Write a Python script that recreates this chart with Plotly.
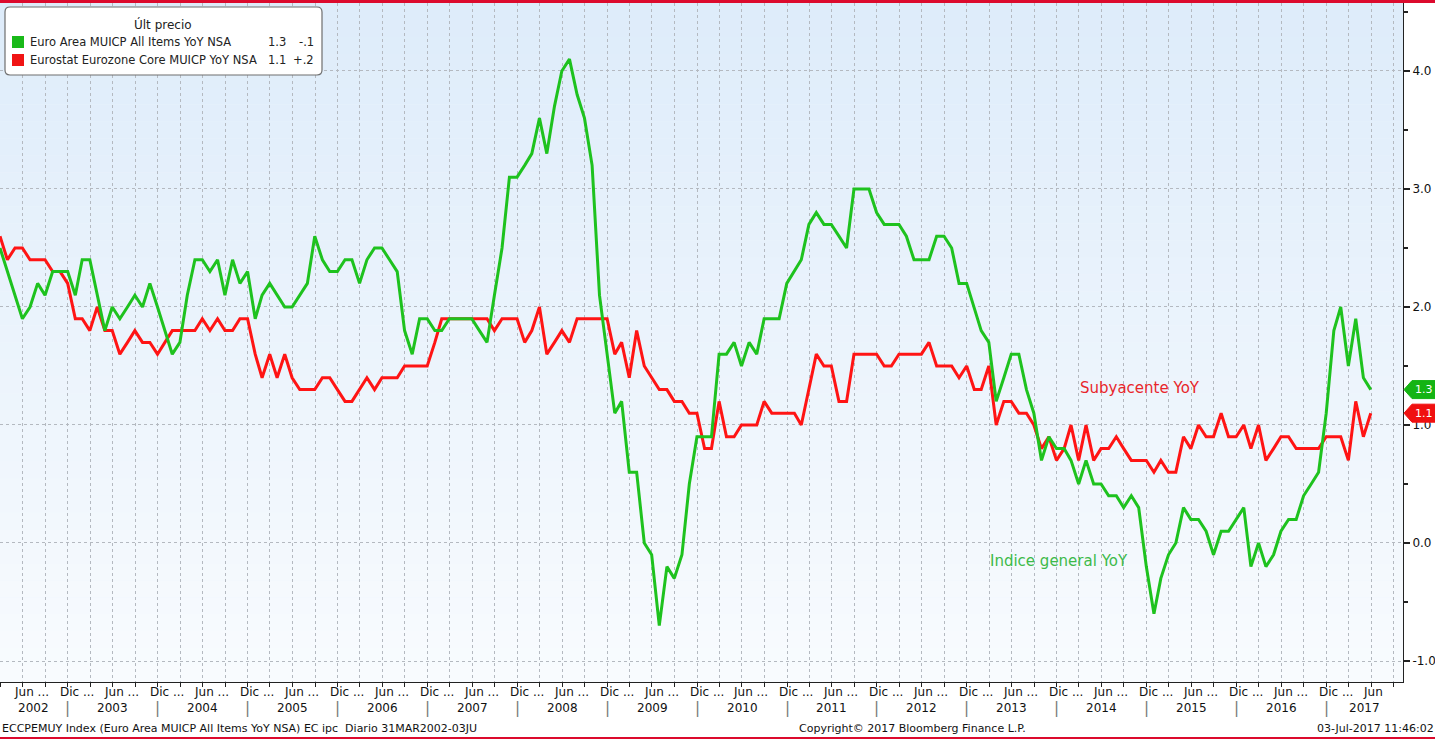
import pandas as pd
import plotly.graph_objects as go

# ---------------- data (monthly, Mar-2002 .. Jun-2017) ----------------
start_month = "2002-03-31"
headline_yoy = [
    # 2002 (Mar-Dec)
    2.5, 2.3, 2.1, 1.9, 2.0, 2.2, 2.1, 2.3, 2.3, 2.3,
    # 2003
    2.1, 2.4, 2.4, 2.1, 1.8, 2.0, 1.9, 2.0, 2.1, 2.0, 2.2, 2.0,
    # 2004
    1.8, 1.6, 1.7, 2.1, 2.4, 2.4, 2.3, 2.4, 2.1, 2.4, 2.2, 2.3,
    # 2005
    1.9, 2.1, 2.2, 2.1, 2.0, 2.0, 2.1, 2.2, 2.6, 2.4, 2.3, 2.3,
    # 2006
    2.4, 2.4, 2.2, 2.4, 2.5, 2.5, 2.4, 2.3, 1.8, 1.6, 1.9, 1.9,
    # 2007
    1.8, 1.8, 1.9, 1.9, 1.9, 1.9, 1.8, 1.7, 2.1, 2.5, 3.1, 3.1,
    # 2008
    3.2, 3.3, 3.6, 3.3, 3.7, 4.0, 4.1, 3.8, 3.6, 3.2, 2.1, 1.6,
    # 2009
    1.1, 1.2, 0.6, 0.6, 0.0, -0.1, -0.7, -0.2, -0.3, -0.1, 0.5, 0.9,
    # 2010
    0.9, 0.9, 1.6, 1.6, 1.7, 1.5, 1.7, 1.6, 1.9, 1.9, 1.9, 2.2,
    # 2011
    2.3, 2.4, 2.7, 2.8, 2.7, 2.7, 2.6, 2.5, 3.0, 3.0, 3.0, 2.8,
    # 2012
    2.7, 2.7, 2.7, 2.6, 2.4, 2.4, 2.4, 2.6, 2.6, 2.5, 2.2, 2.2,
    # 2013
    2.0, 1.8, 1.7, 1.2, 1.4, 1.6, 1.6, 1.3, 1.1, 0.7, 0.9, 0.8,
    # 2014
    0.8, 0.7, 0.5, 0.7, 0.5, 0.5, 0.4, 0.4, 0.3, 0.4, 0.3, -0.2,
    # 2015
    -0.6, -0.3, -0.1, 0.0, 0.3, 0.2, 0.2, 0.1, -0.1, 0.1, 0.1, 0.2,
    # 2016
    0.3, -0.2, 0.0, -0.2, -0.1, 0.1, 0.2, 0.2, 0.4, 0.5, 0.6, 1.1,
    # 2017 (Jan-Jun)
    1.8, 2.0, 1.5, 1.9, 1.4, 1.3,
]
core_yoy = [
    # 2002 (Mar-Dec)
    2.6, 2.4, 2.5, 2.5, 2.4, 2.4, 2.4, 2.3, 2.3, 2.2,
    # 2003
    1.9, 1.9, 1.8, 2.0, 1.8, 1.8, 1.6, 1.7, 1.8, 1.7, 1.7, 1.6,
    # 2004
    1.7, 1.8, 1.8, 1.8, 1.8, 1.9, 1.8, 1.9, 1.8, 1.8, 1.9, 1.9,
    # 2005
    1.6, 1.4, 1.6, 1.4, 1.6, 1.4, 1.3, 1.3, 1.3, 1.4, 1.4, 1.3,
    # 2006
    1.2, 1.2, 1.3, 1.4, 1.3, 1.4, 1.4, 1.4, 1.5, 1.5, 1.5, 1.5,
    # 2007
    1.7, 1.9, 1.9, 1.9, 1.9, 1.9, 1.9, 1.9, 1.8, 1.9, 1.9, 1.9,
    # 2008
    1.7, 1.8, 2.0, 1.6, 1.7, 1.8, 1.7, 1.9, 1.9, 1.9, 1.9, 1.9,
    # 2009
    1.6, 1.7, 1.4, 1.8, 1.5, 1.4, 1.3, 1.3, 1.2, 1.2, 1.1, 1.1,
    # 2010
    0.8, 0.8, 1.2, 0.9, 0.9, 1.0, 1.0, 1.0, 1.2, 1.1, 1.1, 1.1,
    # 2011
    1.1, 1.0, 1.3, 1.6, 1.5, 1.5, 1.2, 1.2, 1.6, 1.6, 1.6, 1.6,
    # 2012
    1.5, 1.5, 1.6, 1.6, 1.6, 1.6, 1.7, 1.5, 1.5, 1.5, 1.4, 1.5,
    # 2013
    1.3, 1.3, 1.5, 1.0, 1.2, 1.2, 1.1, 1.1, 1.0, 0.8, 0.9, 0.7,
    # 2014
    0.8, 1.0, 0.7, 1.0, 0.7, 0.8, 0.8, 0.9, 0.8, 0.7, 0.7, 0.7,
    # 2015
    0.6, 0.7, 0.6, 0.6, 0.9, 0.8, 1.0, 0.9, 0.9, 1.1, 0.9, 0.9,
    # 2016
    1.0, 0.8, 1.0, 0.7, 0.8, 0.9, 0.9, 0.8, 0.8, 0.8, 0.8, 0.9,
    # 2017 (Jan-Jun)
    0.9, 0.9, 0.7, 1.2, 0.9, 1.1,
]
months = pd.date_range(start_month, periods=len(headline_yoy), freq="ME")

headline_name = "Euro Area MUICP All Items YoY NSA"
core_name = "Eurostat Eurozone Core MUICP YoY NSA"
headline_last, headline_chg = "1.3", "-.1"
core_last, core_chg = "1.1", "+.2"
y_tick_vals = [-1, 0, 1, 2, 3, 4]
y_tick_text = ["-1.0", "0.0", "1.0", "2.0", "3.0", "4.0"]
years = list(range(2002, 2018))
x_range = ["2002-03-31", "2017-11-08"]
y_range = [-1.178, 4.576]

# ---------------- style ----------------
GREEN = "#1ec21e"
RED = "#ff1414"
FONT = "DejaVu Sans"
W, H = 1435, 739
ML, MR, MT, MB = 0, 32, 3, 57
PW, PH = W - ML - MR, H - MT - MB


def px(x):  # pixel x -> paper x
    return (x - ML) / PW


def py(y):  # pixel y -> paper y
    return (H - MB - y) / PH


fig = go.Figure()
fig.add_trace(go.Scatter(x=months, y=core_yoy, mode="lines", name=core_name,
                         line=dict(color=RED, width=3)))
fig.add_trace(go.Scatter(x=months, y=headline_yoy, mode="lines", name=headline_name,
                         line=dict(color=GREEN, width=3)))

shapes = []
# vertical gradient background
top_c = (222, 236, 250)
bot_c = (248, 251, 254)
n = 40
for i in range(n):
    t = i / (n - 1)
    c = tuple(round(top_c[k] + (bot_c[k] - top_c[k]) * t) for k in range(3))
    shapes.append(dict(type="rect", xref="paper", yref="paper", x0=0, x1=1,
                       y0=1 - (i + 1) / n, y1=1 - i / n, layer="below",
                       fillcolor="rgb(%d,%d,%d)" % c, line=dict(width=0)))
# red frame lines
shapes.append(dict(type="rect", xref="paper", yref="paper", x0=px(0), x1=px(W),
                   y0=py(3), y1=py(0), fillcolor="#dc0a2d", line=dict(width=0), layer="above"))
shapes.append(dict(type="rect", xref="paper", yref="paper", x0=px(0), x1=px(W),
                   y0=py(739), y1=py(737), fillcolor="#dc0a2d", line=dict(width=0), layer="above"))


def rounded_rect(x0, y0, x1, y1, r):
    X0, X1, Y0, Y1 = px(x0), px(x1), py(y0), py(y1)
    rx, ry = r / PW, r / PH
    return ("M %f,%f L %f,%f Q %f,%f %f,%f L %f,%f Q %f,%f %f,%f "
            "L %f,%f Q %f,%f %f,%f L %f,%f Q %f,%f %f,%f Z") % (
        X0 + rx, Y0, X1 - rx, Y0, X1, Y0, X1, Y0 - ry, X1, Y1 + ry, X1, Y1, X1 - rx, Y1,
        X0 + rx, Y1, X0, Y1, X0, Y1 + ry, X0, Y0 - ry, X0, Y0, X0 + rx, Y0)


# legend box
shapes.append(dict(type="path", xref="paper", yref="paper",
                   path=rounded_rect(5, 7, 322, 75, 5), fillcolor="white",
                   line=dict(color="#6e6e6e", width=1.2), layer="above"))
shapes.append(dict(type="rect", xref="paper", yref="paper", x0=px(12), x1=px(24),
                   y0=py(48), y1=py(36), fillcolor="#19b919", line=dict(width=0), layer="above"))
shapes.append(dict(type="rect", xref="paper", yref="paper", x0=px(12), x1=px(24),
                   y0=py(66), y1=py(54), fillcolor="#f01414", line=dict(width=0), layer="above"))
# last value tags on right axis
hh = 9 / (PH / (y_range[1] - y_range[0]))
for val, col in ((float(headline_last), "#14b414"), (float(core_last), "#f01010")):
    path = "M %f,%f L %f,%f L %f,%f L %f,%f L %f,%f Z" % (
        px(1404), val, px(1412), val + hh, px(1436), val + hh,
        px(1436), val - hh, px(1412), val - hh)
    shapes.append(dict(type="path", xref="paper", yref="y", path=path,
                       fillcolor=col, line=dict(color=col, width=1), layer="above"))

ann = []
axis_font = dict(family=FONT, size=12, color="#111111")
# x axis "Jun ..." / "Dic ..." labels
for yr in years:
    if pd.Timestamp(f"{yr}-06-01") >= pd.Timestamp(x_range[0]):
        ann.append(dict(x=f"{yr}-06-01", y=py(692), xref="x", yref="paper",
                        text="Jun ..." if yr < 2017 else "Jun", showarrow=False,
                        xanchor="left", yanchor="middle", xshift=-3, font=axis_font))
    if yr < 2017:
        ann.append(dict(x=f"{yr}-12-01", y=py(692), xref="x", yref="paper",
                        text="Dic ...", showarrow=False, xanchor="left",
                        yanchor="middle", xshift=-2, font=axis_font))
# year labels centred on visible part of each year, with separators
r0, r1 = pd.Timestamp(x_range[0]), pd.Timestamp(x_range[1])
for yr in years:
    a = max(pd.Timestamp(f"{yr}-01-01"), r0)
    b = min(pd.Timestamp(f"{yr + 1}-01-01"), r1)
    mid = a + (b - a) / 2
    ann.append(dict(x=mid, y=py(708), xref="x", yref="paper", text=str(yr),
                    showarrow=False, xanchor="center", yanchor="middle", font=axis_font))
    if yr > 2002:
        ann.append(dict(x=f"{yr}-01-01", y=py(708), xref="x", yref="paper", text="|",
                        showarrow=False, xanchor="center", yanchor="middle",
                        font=dict(family=FONT, size=15, color="#777777")))
# legend text
LEG = 11.5
ann.append(dict(x=px(163), y=py(24), xref="paper", yref="paper", text="Últ precio",
                showarrow=False, xanchor="center", yanchor="middle",
                font=dict(family=FONT, size=12, color="#222")))
for yy, name, last, chg in ((42, headline_name, headline_last, headline_chg),
                            (60, core_name, core_last, core_chg)):
    ann.append(dict(x=px(28), y=py(yy), xref="paper", yref="paper", text=name,
                    showarrow=False, xanchor="left", yanchor="middle",
                    font=dict(family=FONT, size=LEG, color="#222")))
    ann.append(dict(x=px(288), y=py(yy), xref="paper", yref="paper", text=last,
                    showarrow=False, xanchor="right", yanchor="middle",
                    font=dict(family=FONT, size=LEG, color="#222")))
    ann.append(dict(x=px(316), y=py(yy), xref="paper", yref="paper", text=chg,
                    showarrow=False, xanchor="right", yanchor="middle",
                    font=dict(family=FONT, size=LEG, color="#222")))
# series captions
ann.append(dict(x=px(1078), y=py(388), xref="paper", yref="paper", text="Subyacente YoY",
                showarrow=False, xanchor="left", yanchor="middle",
                font=dict(family=FONT, size=15, color="#e8262a")))
ann.append(dict(x=px(988), y=py(561), xref="paper", yref="paper", text="Indice general YoY",
                showarrow=False, xanchor="left", yanchor="middle",
                font=dict(family=FONT, size=15, color="#3dba4a")))
# tag values
for val in (headline_last, core_last):
    ann.append(dict(x=px(1424), y=float(val), xref="paper", yref="y", text=val,
                    showarrow=False, xanchor="center", yanchor="middle",
                    font=dict(family=FONT, size=11, color="white")))
# footer
foot_font = dict(family=FONT, size=11, color="#111")
ann.append(dict(x=px(0), y=py(728), xref="paper", yref="paper",
                text="ECCPEMUY Index (Euro Area MUICP All Items YoY NSA) EC ipc  Diario 31MAR2002-03JU",
                showarrow=False, xanchor="left", yanchor="middle", font=foot_font))
ann.append(dict(x=px(912), y=py(728), xref="paper", yref="paper",
                text="Copyright© 2017 Bloomberg Finance L.P.",
                showarrow=False, xanchor="center", yanchor="middle", font=foot_font))
ann.append(dict(x=px(1436), y=py(728), xref="paper", yref="paper",
                text="03-Jul-2017 11:46:02",
                showarrow=False, xanchor="right", yanchor="middle", font=foot_font))

fig.update_layout(
    width=W, height=H,
    margin=dict(l=ML, r=MR, t=MT, b=MB),
    paper_bgcolor="white", plot_bgcolor="#eef5fc",
    showlegend=False,
    shapes=shapes, annotations=ann,
    xaxis=dict(type="date", range=x_range, showgrid=True, gridcolor="#b4b9c0",
               griddash="dot", gridwidth=1, dtick="M3", tick0="2002-01-01",
               showticklabels=False, ticks="outside", ticklen=4, tickcolor="#222",
               showline=True, linecolor="#222", linewidth=1, zeroline=False,
               fixedrange=True),
    yaxis=dict(side="right", range=y_range, tickvals=y_tick_vals, ticktext=y_tick_text,
               showgrid=True, gridcolor="#b4b9c0", griddash="dot", gridwidth=1,
               ticks="outside", ticklen=6, tickwidth=2, tickcolor="#222",
               minor=dict(dtick=0.5, tick0=0, ticks="outside", ticklen=4,
                          tickcolor="#222", showgrid=False),
               showline=True, linecolor="#222", linewidth=1, zeroline=False,
               tickfont=dict(family=FONT, size=12, color="#111"), fixedrange=True),
)

fig.write_html("out.html",
               config={"displayModeBar": False},
               post_script="document.body.style.margin='0px';"
                           "document.body.style.overflow='hidden';")
